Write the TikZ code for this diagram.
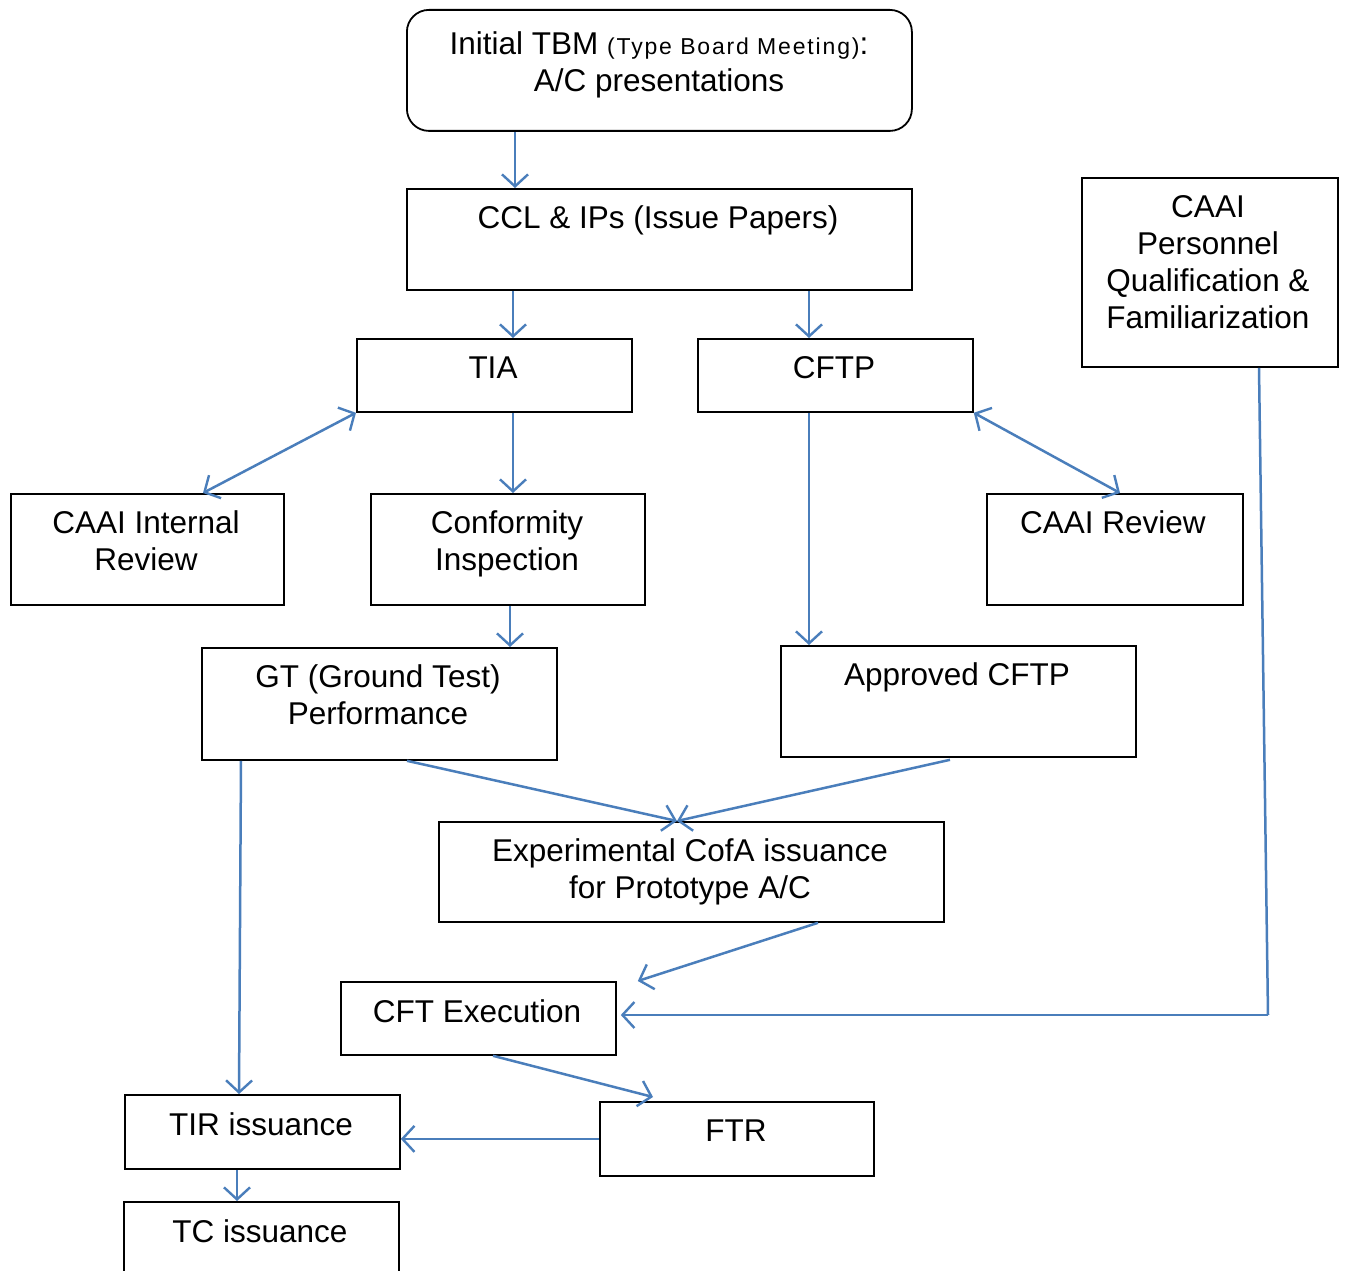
\documentclass[tikz,border=0pt]{standalone}
\usepackage{fontspec}
\setmainfont{Liberation Sans}
\usetikzlibrary{arrows.meta,calc}
\definecolor{linkblue}{RGB}{74,126,187}
\begin{document}
\begin{tikzpicture}[x=1pt,y=-1pt,
  box/.style={draw=black,line width=1.8pt,inner sep=0pt,anchor=north west,fill=none},
  txt/.style={font=\fontsize{31.5}{37}\selectfont,align=center,inner sep=0pt,anchor=base},
  tip/.tip={Straight Barb[length=12pt,width=26pt,line width=2.4pt]},
  arr/.style={draw=linkblue,line width=2.5pt,-tip},
  darr/.style={draw=linkblue,line width=2.5pt,tip-tip},
  plain/.style={draw=linkblue,line width=2.5pt}
]
\clip (0,0) rectangle (1345,1271);
\fill[white] (0,0) rectangle (1345,1271);

% boxes
\node[box,rounded corners=22pt,minimum width=505pt,minimum height=121pt] (tbm) at (406,9) {};
\node[box,minimum width=505pt,minimum height=101pt] (ccl) at (406,188) {};
\node[box,minimum width=275pt,minimum height=73pt] (tia) at (356,338) {};
\node[box,minimum width=275pt,minimum height=73pt] (cftp) at (697,338) {};
\node[box,minimum width=256pt,minimum height=189pt] (per) at (1081,177) {};
\node[box,minimum width=273pt,minimum height=111pt] (irev) at (10,493) {};
\node[box,minimum width=274pt,minimum height=111pt] (conf) at (370,493) {};
\node[box,minimum width=256pt,minimum height=111pt] (rev) at (986,493) {};
\node[box,minimum width=355pt,minimum height=112pt] (gt) at (201,647) {};
\node[box,minimum width=355pt,minimum height=111pt] (appr) at (780,645) {};
\node[box,minimum width=505pt,minimum height=100pt] (exp) at (438,821) {};
\node[box,minimum width=275pt,minimum height=73pt] (cft) at (340,981) {};
\node[box,minimum width=275pt,minimum height=74pt] (tir) at (124,1094) {};
\node[box,minimum width=274pt,minimum height=74pt] (ftr) at (599,1101) {};
\node[box,minimum width=275pt,minimum height=110pt] (tc) at (123,1201) {};

% texts (anchor = baseline of the last line)
\node[txt] (ttbm) at (659,92) {Initial TBM {\fontsize{23}{37}\selectfont\addfontfeature{LetterSpace=8}(Type Board Meeting)}:\\A/C presentations};
\node[txt] (tccl) at (658,229) {CCL \& IPs (Issue Papers)};
\node[txt] (ttia) at (493,378) {TIA};
\node[txt] (tcftp) at (834,378) {CFTP};
\node[txt] (tper) at (1208,328) {CAAI\\Personnel\\Qualification \&\\Familiarization};
\node[txt] (tirev) at (146,570) {CAAI Internal\\Review};
\node[txt] (tconf) at (507,570) {Conformity\\Inspection};
\node[txt] (trev) at (1113,533) {CAAI Review};
\node[txt] (tgt) at (378,724) {GT (Ground Test)\\Performance};
\node[txt] (tappr) at (957,685) {Approved CFTP};
\node[txt] (texp) at (690,898) {Experimental CofA issuance\\for Prototype A/C};
\node[txt] (tcft) at (477,1022) {CFT Execution};
\node[txt] (ttir) at (261,1135) {TIR issuance};
\node[txt] (tftr) at (736,1141) {FTR};
\node[txt] (ttc) at (260,1242) {TC issuance};

% connectors
\draw[arr] ([xshift=109pt]tbm.south west) -- ([xshift=109pt]ccl.north west);
\draw[arr] ([xshift=107pt]ccl.south west) -- ([xshift=157pt]tia.north west);
\draw[arr] ([xshift=403pt]ccl.south west) -- ([xshift=112pt]cftp.north west);
\draw[darr] (tia.south west) -- ([xshift=193pt]irev.north west);
\draw[arr] ([xshift=157pt]tia.south west) -- ([xshift=143pt]conf.north west);
\draw[arr] ([xshift=112pt]cftp.south west) -- ([xshift=29pt]appr.north west);
\draw[darr] (cftp.south east) -- ([xshift=134pt]rev.north west);
\draw[arr] ([xshift=140pt]conf.south west) -- ([xshift=309pt]gt.north west);
\draw[arr] ([xshift=206pt]gt.south west) -- ([xshift=239pt]exp.north west);
\draw[arr] ([xshift=170pt,yshift=-2pt]appr.south west) -- ([xshift=239pt]exp.north west);
\draw[arr] ([xshift=40pt]gt.south west) -- ([xshift=115pt]tir.north west);
\draw[arr] ([xshift=380pt]exp.south west) -- ([xshift=21pt]cft.north east);
\coordinate (pc) at (1268,1015);
\draw[plain] ([xshift=178pt]per.south west) -- (pc);
\draw[arr] (pc) -- ($(cft.east |- pc)+(4,0)$);
\draw[arr] ([xshift=153pt]cft.south west) -- ([xshift=54pt,yshift=4pt]ftr.north west);
\draw[arr] (ftr.west) -- (tir.east |- ftr.west);
\draw[arr] ([xshift=113pt]tir.south west) -- ([xshift=114pt]tc.north west);
\end{tikzpicture}
\end{document}
